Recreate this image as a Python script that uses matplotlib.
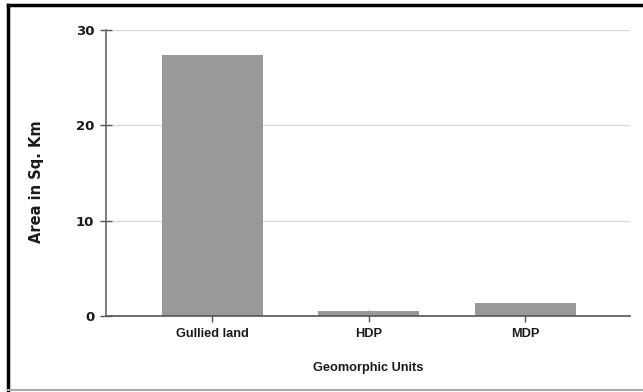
import matplotlib.pyplot as plt
from matplotlib.lines import Line2D

categories = ["Gullied land", "HDP", "MDP"]
area = [27.4, 0.55, 1.35]
yticks = [0, 10, 20, 30]

fig = plt.figure(figsize=(6.43, 3.92), dpi=100)
ax = fig.add_axes([0.165, 0.194, 0.815, 0.729])

x = range(len(categories))
ax.bar(x, area, width=0.645, color="#999999", zorder=2)

ax.set_xlim(-0.677, 2.67)
ax.set_ylim(0, 30)
ax.set_yticks(yticks)
ax.set_xticks(list(x))
ax.set_xticklabels(categories, fontfamily="Liberation Sans", fontweight="bold", fontsize=9.2, color="#1a1a1a")
ax.set_yticklabels([str(v) for v in yticks], fontfamily="DejaVu Sans", fontweight="bold", fontsize=9.5, color="#1a1a1a")
ax.tick_params(axis="both", direction="inout", length=9, width=1, color="#555555", pad=4)

ax.grid(axis="y", color="#d9d9d9", linewidth=1, zorder=0)
for s in ["top", "right"]:
    ax.spines[s].set_visible(False)
ax.spines["left"].set_color("#666666")
ax.spines["bottom"].set_color("#555555")
ax.spines["left"].set_linewidth(1.2)
ax.spines["bottom"].set_linewidth(1.2)

ax.set_ylabel("Area in Sq. Km", fontfamily="DejaVu Sans", fontweight="bold", fontsize=10.5, color="#1a1a1a")
ax.yaxis.set_label_coords(-0.119, 0.47)
ax.set_xlabel("Geomorphic Units", fontfamily="Liberation Sans", fontweight="bold", fontsize=9.2, color="#1a1a1a", labelpad=16)

# frame round the figure
fig.add_artist(Line2D([0.012, 0.012], [0.0, 0.988], transform=fig.transFigure, color="black", linewidth=2.5))
fig.add_artist(Line2D([0.012, 1.0], [0.988, 0.988], transform=fig.transFigure, color="black", linewidth=2.5))
fig.add_artist(Line2D([0.012, 1.0], [0.004, 0.004], transform=fig.transFigure, color="#aaaaaa", linewidth=1.5))

fig.savefig("out.png", dpi=100)
